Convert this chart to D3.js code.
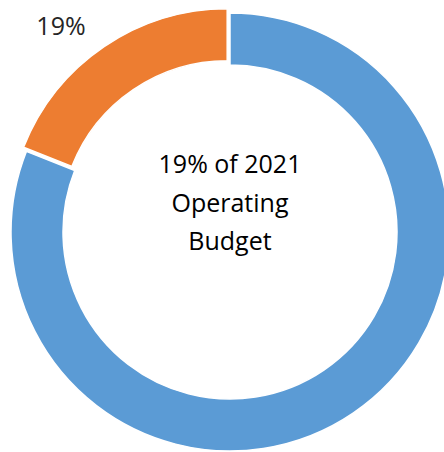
<!DOCTYPE html>
<html><head><meta charset="utf-8">
<script src="https://cdn.jsdelivr.net/npm/d3@7"></script>
<style>html,body{margin:0;padding:0;background:#fff;}</style>
</head><body>
<svg id="c" width="444" height="452"></svg>
<script>
const categories = ["Rest of Operating Budget", "Share of 2021 Operating Budget"];
const values = [81, 19];
const colors = ["#5B9BD5", "#ED7D31"];
const labels = ["", "19%"];
const centerLines = ["19% of 2021", "Operating", "Budget"];

const svg = d3.select("#c");
const cx = 230, cy = 232, rOuter = 219, rInner = 167, explode = 5;
const g = svg.append("g").attr("transform", `translate(${cx},${cy})`);
const pie = d3.pie().sort(null).value(d => d).startAngle(0).endAngle(2*Math.PI);
const arcs = pie(values);
const arc = d3.arc().innerRadius(rInner).outerRadius(rOuter);

g.selectAll("path").data(arcs).enter().append("path")
  .attr("d", arc)
  .attr("fill", (d,i) => colors[i])
  .attr("stroke", "#fff").attr("stroke-width", 1.5)
  .attr("transform", (d,i) => {
    if (i !== 1) return null;
    const m = (d.startAngle + d.endAngle) / 2;
    return `translate(${Math.sin(m)*explode},${-Math.cos(m)*explode})`;
  });

const font = "'Open Sans', 'Liberation Sans', sans-serif";
svg.append("text").attr("x", 61).attr("y", 35)
  .attr("text-anchor", "middle").attr("font-family", font).attr("font-size", 25)
  .attr("fill", "#262626").text(labels[1]);

const baselines = [173, 212, 250];
centerLines.forEach((t,i) => {
  svg.append("text").attr("x", cx).attr("y", baselines[i])
    .attr("text-anchor", "middle").attr("font-family", font).attr("font-size", 25)
    .attr("fill", "#000").text(t);
});
</script>
</body></html>
